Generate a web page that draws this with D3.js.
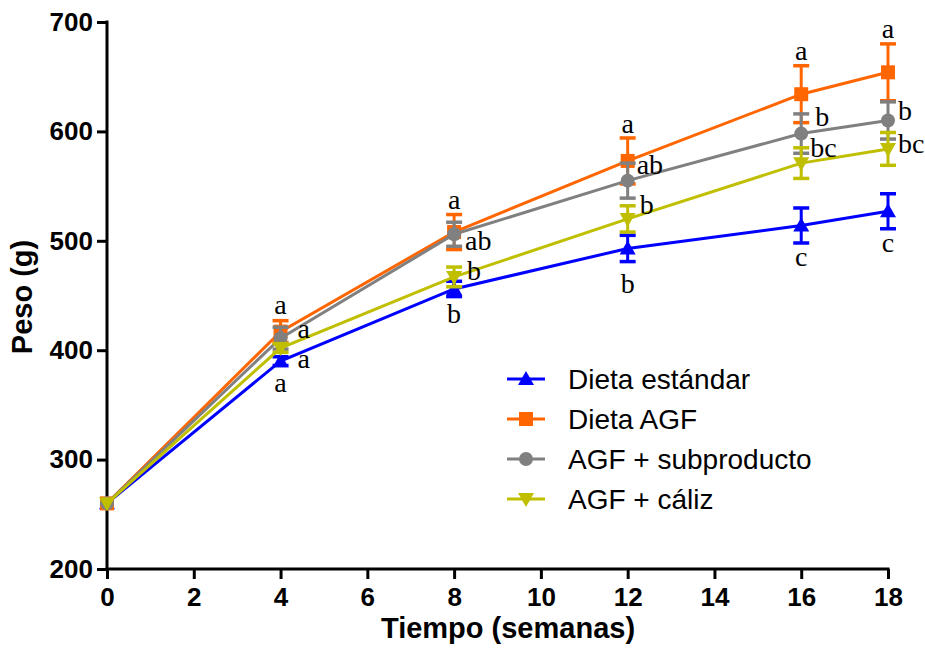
<!DOCTYPE html>
<html><head><meta charset="utf-8">
<script src="https://cdn.jsdelivr.net/npm/d3@7/dist/d3.min.js"></script>
<style>body{margin:0;background:#fff}svg{display:block}</style>
</head><body><svg id="c" width="925" height="654"></svg>
<script>
const weeks = [0, 4, 8, 12, 16, 18];
const seriesNames = ["Dieta estándar", "Dieta AGF", "AGF + subproducto", "AGF + cáliz"];
const estandarMean = [260, 390, 456, 493, 514, 527];
const estandarErr  = [0, 4, 7, 12, 16, 16];
const agfMean = [260, 417, 508, 573, 634, 654];
const agfErr  = [0, 10, 16, 21, 26, 26];
const subMean = [260, 411, 506, 555, 598, 610];
const subErr  = [0, 10, 11, 16, 18, 17];
const calizMean = [260, 402, 467, 520, 571, 584];
const calizErr  = [0, 4, 9, 12, 14, 15];
const estandarLetters = ["", "a", "b", "b", "c", "c"];
const agfLetters = ["", "a", "a", "a", "a", "a"];
const subLetters = ["", "a", "ab", "ab", "b", "b"];
const calizLetters = ["", "a", "b", "b", "bc", "bc"];
const xTicks = [0, 2, 4, 6, 8, 10, 12, 14, 16, 18];
const yTicks = [200, 300, 400, 500, 600, 700];

// label placement (layout only, in pixels)
const layout = {
  below: {dx: [0, 0, 0, 0, 0, 0], dy: [0, 25, 26, 31, 23, 23]},
  above: {dx: [0, 0, 0, 0, 0, 0], dy: [0, -7, -6, -5, -6, -6]},
  right: {dx: [0, 17, 11, 9, 14, 10], dy: [0, 0, 16, -7, -8, 0]},
  right2: {dx: [0, 17, 13, 12, 9, 10], dy: [0, 20, 3, -5, -6, 4]}
};

const series = [
  {name: seriesNames[0], mean: estandarMean, err: estandarErr, letters: estandarLetters, color: "#0000ff", sym: "up", lab: "below"},
  {name: seriesNames[1], mean: agfMean, err: agfErr, letters: agfLetters, color: "#ff6600", sym: "square", lab: "above"},
  {name: seriesNames[2], mean: subMean, err: subErr, letters: subLetters, color: "#808080", sym: "circle", lab: "right"},
  {name: seriesNames[3], mean: calizMean, err: calizErr, letters: calizLetters, color: "#bfbf00", sym: "down", lab: "right2"}
];

const svg = d3.select("#c");
const x = d3.scaleLinear().domain([0, 18]).range([107, 888]);
const y = d3.scaleLinear().domain([200, 700]).range([569, 22]);
const sans = "Liberation Sans, Arial, sans-serif";

function marker(g, type, cx, cy, color) {
  if (type === "square") {
    g.append("rect").attr("x", cx - 7).attr("y", cy - 7).attr("width", 14).attr("height", 14).attr("fill", color);
  } else if (type === "circle") {
    g.append("circle").attr("cx", cx).attr("cy", cy).attr("r", 7).attr("fill", color);
  } else if (type === "up") {
    g.append("path").attr("d", `M${cx},${cy - 8}L${cx + 8},${cy + 6}L${cx - 8},${cy + 6}Z`).attr("fill", color);
  } else {
    g.append("path").attr("d", `M${cx},${cy + 8}L${cx + 8},${cy - 6}L${cx - 8},${cy - 6}Z`).attr("fill", color);
  }
}

// axes
const yAxis = d3.axisLeft(y).tickValues(yTicks).tickSize(10).tickPadding(4).tickFormat(d3.format("d"));
const gy = svg.append("g").attr("transform", "translate(107,0)").call(yAxis);
const xAxis = d3.axisBottom(x).tickValues(xTicks).tickSize(10).tickPadding(9).tickFormat(d3.format("d"));
const gx = svg.append("g").attr("transform", "translate(0,569)").call(xAxis);
[gx, gy].forEach(g => {
  g.select(".domain").attr("stroke", "#000").attr("stroke-width", 3);
  g.selectAll(".tick line").attr("stroke", "#000").attr("stroke-width", 3);
  g.selectAll(".tick text").attr("fill", "#000").style("font-family", sans)
    .style("font-weight", "bold").style("font-size", "26px");
});
gy.select(".domain").attr("d", "M0,20.5V570.5");
gx.select(".domain").attr("d", "M105.5,0H889.5");

svg.append("text").attr("x", 508).attr("y", 638).attr("text-anchor", "middle")
  .style("font-family", sans).style("font-weight", "bold").style("font-size", "29px")
  .text("Tiempo (semanas)");
svg.append("text").attr("transform", "translate(32,297) rotate(-90)").attr("text-anchor", "middle")
  .style("font-family", sans).style("font-weight", "bold").style("font-size", "29px")
  .text("Peso (g)");

// series
const line = d3.line().x(d => x(d[0])).y(d => y(d[1]));
series.forEach(s => {
  const g = svg.append("g");
  const pts = weeks.map((w, i) => [w, s.mean[i], s.err[i]]);
  g.append("path").attr("d", line(pts)).attr("fill", "none").attr("stroke", s.color).attr("stroke-width", 3);
  pts.forEach(p => {
    if (p[2] > 0) {
      const cx = x(p[0]), y1 = y(p[1] + p[2]), y2 = y(p[1] - p[2]);
      g.append("line").attr("x1", cx).attr("x2", cx).attr("y1", y1).attr("y2", y2).attr("stroke", s.color).attr("stroke-width", 3);
      [y1, y2].forEach(yy => g.append("line").attr("x1", cx - 8).attr("x2", cx + 8).attr("y1", yy).attr("y2", yy).attr("stroke", s.color).attr("stroke-width", 3.5));
    }
    marker(g, s.sym, x(p[0]), y(p[1]), s.color);
  });
});

// letters
const lab = svg.append("g").style("font-family", "Liberation Serif, Times New Roman, serif").style("font-size", "28px").attr("fill", "#000");
series.forEach(s => {
  const L = layout[s.lab];
  weeks.forEach((w, i) => {
    const t = s.letters[i];
    if (!t) return;
    const cx = x(w), top = y(s.mean[i] + s.err[i]), bot = y(s.mean[i] - s.err[i]), cy = y(s.mean[i]);
    if (s.lab === "above") {
      lab.append("text").attr("x", cx).attr("y", top + L.dy[i]).attr("text-anchor", "middle").text(t);
    } else if (s.lab === "below") {
      lab.append("text").attr("x", cx).attr("y", Math.max(bot, cy + 6) + L.dy[i]).attr("text-anchor", "middle").text(t);
    } else {
      lab.append("text").attr("x", cx + L.dx[i]).attr("y", cy + L.dy[i]).text(t);
    }
  });
});

// legend
const leg = svg.append("g");
series.forEach((s, i) => {
  const yy = 379 + i * 40;
  leg.append("line").attr("x1", 507).attr("x2", 545).attr("y1", yy).attr("y2", yy).attr("stroke", s.color).attr("stroke-width", 3);
  marker(leg, s.sym, 526, yy, s.color);
  leg.append("text").attr("x", 568).attr("y", yy + 10).style("font-family", sans)
    .style("font-size", "28px").attr("fill", "#000").text(s.name);
});
</script></body></html>
